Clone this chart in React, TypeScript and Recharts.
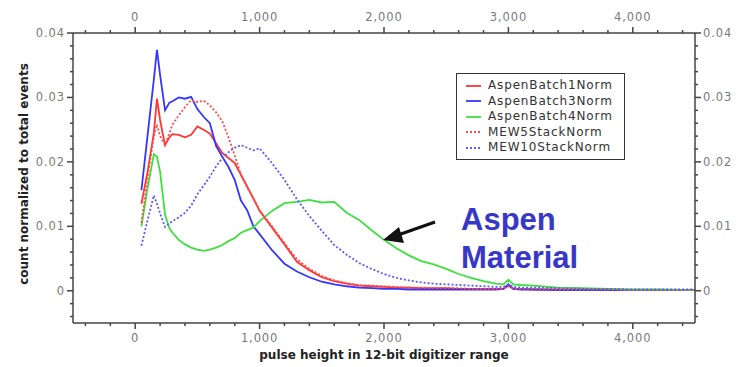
import React from "react";
import { LineChart, Line, XAxis, YAxis, Legend, Label } from "recharts";

// pulse height (x) sample positions
const pulseHeight = [
  50, 100, 150, 175, 200, 240, 275, 300, 350, 400,
  450, 500, 550, 600, 650, 700, 750, 800, 850, 900,
  950, 1000, 1100, 1200, 1300, 1400, 1500, 1600, 1700, 1800,
  1900, 2000, 2100, 2200, 2300, 2400, 2500, 2600, 2700, 2800,
  2900, 2960, 3000, 3040, 3100, 3200, 3400, 3600, 3800, 4000,
  4200, 4500,
];

const aspenBatch1 = [
  0.0135, 0.0185, 0.0245, 0.0298, 0.0265, 0.0226, 0.0238, 0.0243, 0.0242, 0.0238,
  0.0242, 0.0255, 0.025, 0.0244, 0.0229, 0.0214, 0.0206, 0.0198, 0.018, 0.0162,
  0.0143, 0.0124, 0.0098, 0.0072, 0.0045, 0.0032, 0.0021, 0.0015, 0.0011, 0.0008,
  0.0007, 0.0006, 0.0005, 0.0005, 0.0004, 0.0004, 0.0004, 0.0003, 0.0003, 0.0003,
  0.0003, 0.0003, 0.0008, 0.0003, 0.0003, 0.0002, 0.0002, 0.0002, 0.0001, 0.0001,
  0.0001, 0.0001,
];

const aspenBatch3 = [
  0.0156, 0.0242, 0.0328, 0.0374, 0.0335, 0.028, 0.0292, 0.0294, 0.03, 0.0298,
  0.0301, 0.0282, 0.027, 0.026, 0.0225, 0.0208, 0.0192, 0.0172, 0.014, 0.0125,
  0.01, 0.0088, 0.0063, 0.0042, 0.003, 0.0021, 0.0014, 0.001, 0.0007, 0.0005,
  0.0004, 0.0003, 0.0003, 0.0002, 0.0002, 0.0002, 0.0002, 0.0002, 0.0002, 0.0002,
  0.0002, 0.0003, 0.001, 0.0003, 0.0002, 0.0002, 0.0001, 0.0001, 0.0001, 0.0001,
  0.0001, 0.0001,
];

const aspenBatch4 = [
  0.01, 0.016, 0.0212, 0.0208, 0.0185, 0.0118, 0.0097, 0.009, 0.0079, 0.0072,
  0.0067, 0.0064, 0.0062, 0.0064, 0.0067, 0.0071, 0.0077, 0.0082, 0.009, 0.0094,
  0.0098, 0.0108, 0.0124, 0.0136, 0.0138, 0.0141, 0.0137, 0.0138, 0.0121, 0.011,
  0.0094, 0.0079, 0.0066, 0.0055, 0.0046, 0.0041, 0.0034, 0.0026, 0.002, 0.0015,
  0.0011, 0.001, 0.0017, 0.001, 0.0009, 0.0008, 0.0005, 0.0004, 0.0003, 0.0002,
  0.0002, 0.0001,
];

const mew5Stack = [
  0.0105, 0.0175, 0.024, 0.0258, 0.024, 0.0226, 0.0245, 0.0258, 0.0272, 0.0285,
  0.0296, 0.0293, 0.0295, 0.0288, 0.0277, 0.0263, 0.0238, 0.021, 0.018, 0.016,
  0.0144, 0.0125, 0.01, 0.0074, 0.0049, 0.0034, 0.0023, 0.0016, 0.0012, 0.0009,
  0.0008, 0.0007, 0.0006, 0.0005, 0.0005, 0.0004, 0.0004, 0.0004, 0.0003, 0.0003,
  0.0003, 0.0003, 0.0007, 0.0003, 0.0003, 0.0003, 0.0002, 0.0002, 0.0002, 0.0001,
  0.0001, 0.0001,
];

const mew10Stack = [
  0.007, 0.011, 0.0148, 0.0135, 0.012, 0.0099, 0.0105, 0.0108, 0.0114, 0.0121,
  0.0132, 0.015, 0.0163, 0.0177, 0.0193, 0.0206, 0.0215, 0.0222, 0.0226, 0.0222,
  0.0218, 0.0221, 0.0198, 0.0172, 0.0142, 0.0116, 0.0093, 0.0071, 0.0056, 0.0043,
  0.0034, 0.0026, 0.002, 0.0016, 0.0013, 0.0011, 0.001, 0.0009, 0.0008, 0.0007,
  0.0006, 0.0006, 0.001, 0.0006, 0.0005, 0.0005, 0.0004, 0.0003, 0.0003, 0.0002,
  0.0002, 0.0002,
];

const xTicks = [
  -400, -200, 0, 200, 400, 600, 800, 1000, 1200, 1400, 1600, 1800, 2000,
  2200, 2400, 2600, 2800, 3000, 3200, 3400, 3600, 3800, 4000, 4200, 4400,
];
const yTicks = [
  -0.004, -0.002, 0, 0.002, 0.004, 0.006, 0.008, 0.01, 0.012, 0.014, 0.016, 0.018,
  0.02, 0.022, 0.024, 0.026, 0.028, 0.03, 0.032, 0.034, 0.036, 0.038, 0.04,
];

const series = [
  { key: "AspenBatch1Norm", values: aspenBatch1, color: "#ff3535", dash: undefined },
  { key: "AspenBatch3Norm", values: aspenBatch3, color: "#3535ff", dash: undefined },
  { key: "AspenBatch4Norm", values: aspenBatch4, color: "#3ee03e", dash: undefined },
  { key: "MEW5StackNorm", values: mew5Stack, color: "#ff4a4a", dash: "2 2" },
  { key: "MEW10StackNorm", values: mew10Stack, color: "#5a5aff", dash: "2 2" },
];

const data = pulseHeight.map((x, i) => {
  const row: Record<string, number> = { x };
  series.forEach((s) => (row[s.key] = s.values[i]));
  return row;
});

const AXIS = "#444";
const tickText = { fontFamily: "DejaVu Sans", fontSize: 11.5, fill: "#7a7a7a", letterSpacing: 0.9 };
const titleText = { fontFamily: "DejaVu Sans", fontSize: 12, fontWeight: 700, fill: "#222" };

const fmtX = (v: number) => v.toLocaleString("en-US");
const fmtY = (v: number) => (Math.abs(v) < 1e-9 ? "0" : v.toFixed(2));
const isMajorY = (v: number) => Math.abs(v * 100 - Math.round(v * 100)) < 1e-6;

const xTick = (side: "top" | "bottom") => (props: any) => {
  const { x, y, payload } = props;
  const v = payload.value;
  const major = v % 1000 === 0;
  const dir = side === "top" ? -1 : 1;
  return (
    <g>
      <line x1={x} x2={x} y1={y} y2={y + dir * (major ? 6 : 3)} stroke={AXIS} strokeWidth={1.5} />
      {major && (
        <text x={x} y={side === "top" ? y - 12 : y + 19} textAnchor="middle" {...tickText}>
          {fmtX(v)}
        </text>
      )}
    </g>
  );
};

const yTick = (side: "left" | "right") => (props: any) => {
  const { x, y, payload } = props;
  const v = payload.value;
  const major = isMajorY(v);
  const dir = side === "left" ? -1 : 1;
  return (
    <g>
      <line x1={x} x2={x + dir * (major ? 6 : 3)} y1={y} y2={y} stroke={AXIS} strokeWidth={1.5} />
      {major && (
        <text x={x + dir * 8} y={y + 4} textAnchor={side === "left" ? "end" : "start"} {...tickText}>
          {fmtY(v)}
        </text>
      )}
    </g>
  );
};

function LegendBox() {
  return (
    <div
      style={{
        boxSizing: "border-box", width: 169, height: 87, border: "1.5px solid #333",
        background: "#fff", padding: "4px 0 0 9px",
        fontFamily: "DejaVu Sans", fontSize: 12, color: "#333", letterSpacing: 0.85,
      }}
    >
      {series.map((s) => (
        <div key={s.key} style={{ display: "flex", alignItems: "center", height: 15.5 }}>
          <svg width={15} height={4} style={{ marginRight: 7 }}>
            <line x1={0} x2={15} y1={2} y2={2} stroke={s.color} strokeWidth={1.8} strokeDasharray={s.dash} />
          </svg>
          <span style={{ lineHeight: "15px" }}>{s.key}</span>
        </div>
      ))}
    </div>
  );
}

export default function App() {
  return (
    <div style={{ position: "absolute", left: 0, top: 0, width: 740, height: 367, background: "#fff" }}>
      <LineChart width={740} height={367} data={data} margin={{ top: 8, right: 5, bottom: 4, left: 13 }}>
        <XAxis
          xAxisId="bottom" dataKey="x" type="number" domain={[-500, 4500]} ticks={xTicks}
          interval={0} height={40} tickSize={0} tickMargin={0} tickLine={false}
          axisLine={{ stroke: AXIS, strokeWidth: 1.5 }} tick={xTick("bottom")} allowDataOverflow
        >
          <Label
            content={({ viewBox }: any) => (
              <text x={viewBox.x + viewBox.width / 2} y={viewBox.y + 36} textAnchor="middle" {...titleText}>
                pulse height in 12-bit digitizer range
              </text>
            )}
          />
        </XAxis>
        <XAxis
          xAxisId="top" orientation="top" dataKey="x" type="number" domain={[-500, 4500]} ticks={xTicks}
          interval={0} height={25} tickSize={0} tickMargin={0} tickLine={false}
          axisLine={{ stroke: AXIS, strokeWidth: 1.5 }} tick={xTick("top")} allowDataOverflow
        />
        <YAxis
          yAxisId="left" type="number" domain={[-0.005, 0.04]} ticks={yTicks} interval={0}
          width={60} tickSize={0} tickMargin={0} tickLine={false}
          axisLine={{ stroke: AXIS, strokeWidth: 1.5 }} tick={yTick("left")} allowDataOverflow
        >
          <Label
            content={({ viewBox }: any) => {
              const cx = viewBox.x + 15;
              const cy = viewBox.y + viewBox.height / 2 - 4;
              return (
                <text x={cx} y={cy} textAnchor="middle" transform={`rotate(-90 ${cx} ${cy})`} {...titleText}>
                  count normalized to total events
                </text>
              );
            }}
          />
        </YAxis>
        <YAxis
          yAxisId="right" orientation="right" type="number" domain={[-0.005, 0.04]} ticks={yTicks}
          interval={0} width={40} tickSize={0} tickMargin={0} tickLine={false}
          axisLine={{ stroke: AXIS, strokeWidth: 1.5 }} tick={yTick("right")} allowDataOverflow
        />
        <Legend
          layout="vertical" align="center" verticalAlign="middle"
          wrapperStyle={{ left: 456, top: 73, width: 169, height: 87 }}
          content={() => <LegendBox />}
        />
        {series.map((s) => (
          <Line
            key={s.key} xAxisId="bottom" yAxisId="left" type="linear" dataKey={s.key}
            stroke={s.color} strokeWidth={1.8} strokeDasharray={s.dash} dot={false}
            isAnimationActive={false}
          />
        ))}
      </LineChart>
      <svg width={740} height={367} style={{ position: "absolute", left: 0, top: 0, pointerEvents: "none" }}>
        <line x1={435} y1={222} x2={398} y2={235} stroke="#111" strokeWidth={3} />
        <polygon points="383,240 399,227 404,243" fill="#111" />
        <g fontFamily="Liberation Sans" fontWeight={700} fontSize={31} fill="#3838c8">
          <text x={461} y={230}>Aspen</text>
          <text x={461} y={268}>Material</text>
        </g>
      </svg>
    </div>
  );
}
